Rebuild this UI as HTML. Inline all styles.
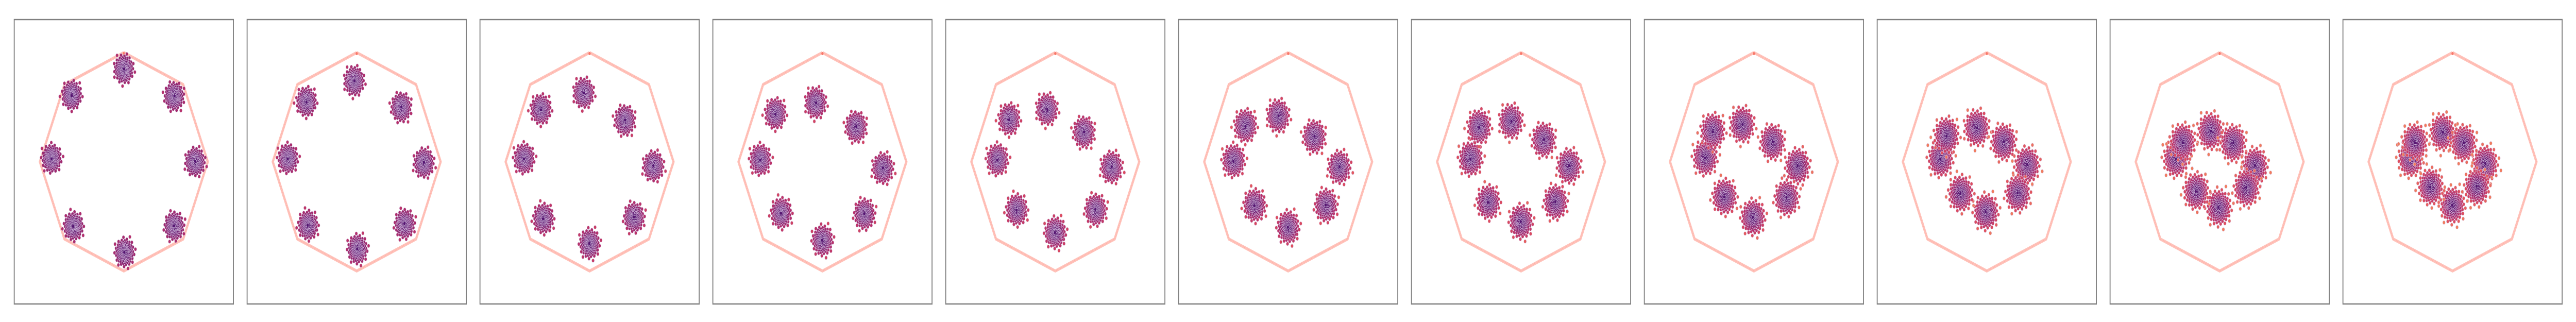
<!DOCTYPE html>
<html><head><meta charset="utf-8"><style>
html,body{margin:0;padding:0;background:#fff;overflow:hidden;width:100%;height:100%;}
svg{display:block;width:100vw;height:100vh;}
</style></head><body>
<svg id="chart" viewBox="0 0 6875 625" preserveAspectRatio="none" xmlns="http://www.w3.org/2000/svg"></svg>
<script>
// cluster centers per panel, normalized to octagon radius; order T,TR,R,BR,B,BL,L,TL
const clusterX = [
 [0.00,0.60,0.85,0.60,0.01,-0.60,-0.86,-0.62],
 [-0.03,0.53,0.80,0.57,0.01,-0.58,-0.82,-0.60],
 [-0.07,0.42,0.76,0.53,0.00,-0.55,-0.78,-0.58],
 [-0.08,0.40,0.72,0.50,0.00,-0.49,-0.74,-0.56],
 [-0.10,0.34,0.67,0.48,0.00,-0.46,-0.69,-0.55],
 [-0.12,0.31,0.61,0.45,0.00,-0.40,-0.65,-0.51],
 [-0.12,0.27,0.57,0.41,0.00,-0.39,-0.60,-0.50],
 [-0.14,0.22,0.52,0.39,-0.01,-0.35,-0.58,-0.49],
 [-0.12,0.20,0.48,0.37,-0.01,-0.31,-0.55,-0.48],
 [-0.11,0.16,0.42,0.32,-0.01,-0.28,-0.52,-0.44],
 [-0.12,0.13,0.39,0.29,0.00,-0.26,-0.50,-0.45]
];
const clusterY = [
 [0.85,0.60,0.00,-0.59,-0.83,-0.59,0.03,0.61],
 [0.74,0.50,-0.01,-0.57,-0.80,-0.58,0.03,0.55],
 [0.63,0.38,-0.04,-0.51,-0.75,-0.52,0.03,0.48],
 [0.54,0.32,-0.06,-0.48,-0.72,-0.47,0.02,0.44],
 [0.48,0.27,-0.05,-0.44,-0.65,-0.44,0.02,0.39],
 [0.42,0.23,-0.05,-0.40,-0.60,-0.40,0.01,0.33],
 [0.37,0.20,-0.04,-0.37,-0.55,-0.37,0.03,0.32],
 [0.34,0.18,-0.04,-0.33,-0.51,-0.32,0.04,0.28],
 [0.31,0.18,-0.03,-0.29,-0.46,-0.29,0.03,0.24],
 [0.28,0.17,-0.04,-0.24,-0.42,-0.27,0.03,0.18],
 [0.27,0.17,-0.02,-0.23,-0.40,-0.23,0.03,0.18]
];
// cluster spread (normalized) per panel
const clusterSpread = [0.072,0.074,0.076,0.078,0.080,0.084,0.088,0.092,0.095,0.098,0.098];

const NS='http://www.w3.org/2000/svg';
const svg=document.getElementById('chart');
const P0=38, PSTEP=621.5, PW=585, PH=552, PY=38;
const RX=224, RY=212, CY=314;
function sx(p,v){return P0+p*PSTEP+PW/2+v*RX;}
function sy(v){return CY-v*RY;}
const stops=[[0,[60,15,110]],[0.35,[105,28,115]],[0.65,[180,48,108]],[0.85,[222,78,95]],[1,[240,125,95]]];
function cmap(t){t=Math.max(0,Math.min(1,t));for(let i=1;i<stops.length;i++){if(t<=stops[i][0]){const a=stops[i-1],b=stops[i];const f=(t-a[0])/(b[0]-a[0]);const c=a[1].map((v,k)=>Math.round(v+(b[1][k]-v)*f));return 'rgb('+c.join(',')+')';}}return 'rgb(240,125,95)';}
const N=160, GA=Math.PI*(3-Math.sqrt(5));
for(let p=0;p<clusterX.length;p++){
  const g=document.createElementNS(NS,'g');
  
  
  svg.appendChild(g);
  const fr=document.createElementNS(NS,'rect');
  
  
  fr.setAttribute('x',P0+p*PSTEP);fr.setAttribute('y',PY);fr.setAttribute('width',PW);fr.setAttribute('height',PH);
  fr.setAttribute('fill','none');fr.setAttribute('stroke','#808080');fr.setAttribute('stroke-width','2.5');
  g.appendChild(fr);
  let pts=[];
  for(let k=0;k<=8;k++){const a=Math.PI/2-k*Math.PI/4;pts.push(sx(p,Math.cos(a)).toFixed(1)+','+sy(Math.sin(a)).toFixed(1));}
  const oc=document.createElementNS(NS,'polyline');
  
  
  oc.setAttribute('points',pts.join(' '));oc.setAttribute('fill','none');oc.setAttribute('stroke','#ffc2ba');oc.setAttribute('stroke-width','6');oc.setAttribute('stroke-linejoin','round');
  g.appendChild(oc);
  const oc2=document.createElementNS(NS,'polyline');
  
  
  oc2.setAttribute('points',pts.join(' '));oc2.setAttribute('fill','none');oc2.setAttribute('stroke','#ff9a8c');oc2.setAttribute('stroke-width','1.5');oc2.setAttribute('stroke-dasharray','1.5 2.5');oc2.setAttribute('opacity','0.5');
  g.appendChild(oc2);
  const vd=document.createElementNS(NS,'circle');
  
  
  vd.setAttribute('cx',sx(p,0));vd.setAttribute('cy',sy(1)+2);vd.setAttribute('r','3');vd.setAttribute('fill','#f8786a');
  g.appendChild(vd);
  const s=clusterSpread[p];
  const orange=p/10;
  for(let c=0;c<8;c++){
    const cg=document.createElementNS(NS,'g');
    
    
    g.appendChild(cg);
    for(let i=N-1;i>=0;i--){
      const u=(i+0.5)/N;
      const r=s*Math.sqrt(-2*Math.log(1-u*0.98))*0.8;
      const a=i*GA+c*0.7;
      const x=clusterX[p][c]+r*Math.cos(a)*0.9;
      const y=clusterY[p][c]+r*Math.sin(a);
      const t=0.18+(r/s)*0.22+orange*(r/s)*0.2;
      const d=document.createElementNS(NS,'circle');
      d.setAttribute('cx',sx(p,x).toFixed(1));d.setAttribute('cy',sy(y).toFixed(1));d.setAttribute('r','3.6');
      d.setAttribute('fill',cmap(t));d.setAttribute('stroke','#dcc8e6');d.setAttribute('stroke-width','0.7');
      cg.appendChild(d);
    }
  }
}
</script>
</body></html>
